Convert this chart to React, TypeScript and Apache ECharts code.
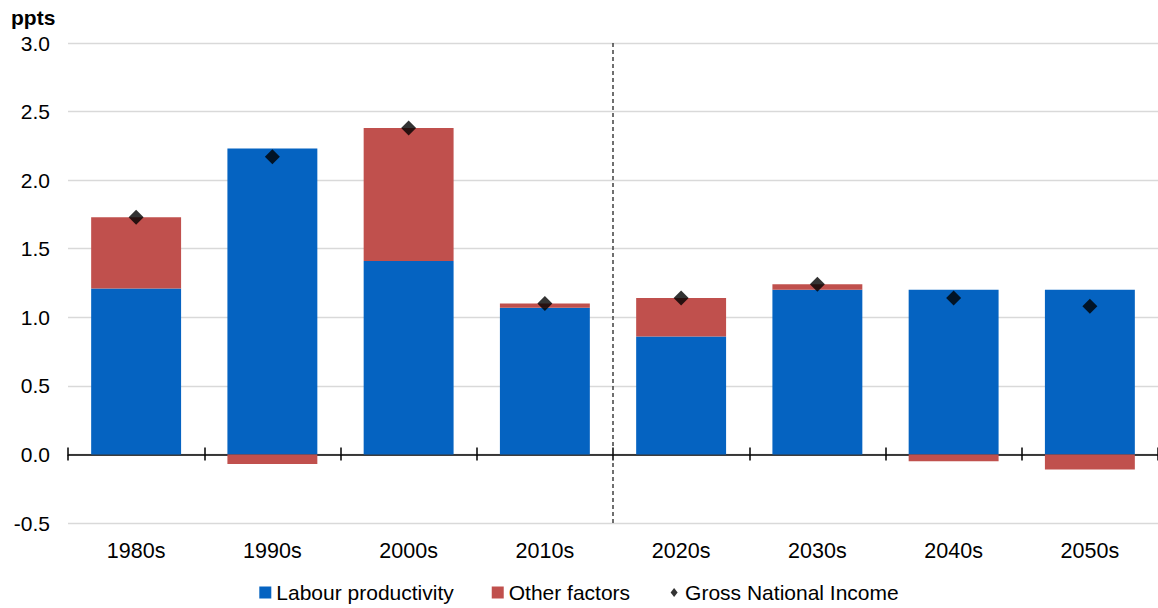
import React, { useEffect, useRef } from "react";
import * as echarts from "echarts";

const categories = ["1980s", "1990s", "2000s", "2010s", "2020s", "2030s", "2040s", "2050s"];
const labourProductivity = [1.21, 2.23, 1.41, 1.07, 0.86, 1.2, 1.2, 1.2];
const otherFactors = [0.52, -0.07, 0.97, 0.03, 0.28, 0.04, -0.05, -0.11];
const grossNationalIncome = [1.73, 2.17, 2.38, 1.1, 1.14, 1.24, 1.14, 1.08];
const yTicks = { min: -0.5, max: 3.0, interval: 0.5 };
const forecastStart = "2020s";

const FONT = "'Liberation Sans', Arial, sans-serif";

export default function App() {
  const ref = useRef<HTMLDivElement>(null);
  useEffect(() => {
    if (!ref.current) return;
    const chart = echarts.init(ref.current, undefined, { renderer: "svg" });
    const dividerPos = categories.indexOf(forecastStart);
    chart.setOption({
      animation: false,
      textStyle: { fontFamily: FONT },
      title: {
        text: "ppts",
        left: 11,
        top: 7,
        padding: 0,
        textStyle: { fontFamily: FONT, fontSize: 21, fontWeight: "bold", color: "#000" },
      },
      grid: { left: 68, right: 0, top: 43, bottom: 85, containLabel: false },
      legend: {
        bottom: 0,
        left: "center",
        itemWidth: 12,
        itemHeight: 12,
        itemGap: 38,
        textStyle: { fontFamily: FONT, fontSize: 21, color: "#000" },
        data: [
          { name: "Labour productivity", icon: "rect" },
          { name: "Other factors", icon: "rect" },
          { name: "Gross National Income", icon: "path://M0,0M12,12M6,1.5L9.5,6L6,10.5L2.5,6Z" },
        ],
      },
      xAxis: [
        {
          type: "category",
          data: categories,
          position: "bottom",
          axisLine: { show: false, onZero: false },
          axisTick: { show: false },
          axisLabel: { fontFamily: FONT, fontSize: 21.5, color: "#000", margin: 17 },
          splitLine: { show: false },
        },
        {
          type: "category",
          data: categories,
          position: "bottom",
          axisLine: { show: true, onZero: true, onZeroAxisIndex: 0, lineStyle: { color: "#000", width: 1.5 } },
          axisTick: { show: true, inside: false, length: 6, lineStyle: { color: "#000", width: 1.5 } },
          axisLabel: { show: false },
          splitLine: { show: false },
        },
        {
          type: "category",
          data: categories,
          position: "bottom",
          axisLine: { show: false, onZero: true, onZeroAxisIndex: 1 },
          axisTick: { show: true, inside: true, length: 7, lineStyle: { color: "#000", width: 1.5 } },
          axisLabel: { show: false },
          splitLine: { show: false },
        },
        {
          type: "value",
          show: false,
          min: 0,
          max: categories.length,
          splitLine: { show: false },
        },
      ],
      yAxis: [
        {
          type: "value",
          min: yTicks.min,
          max: yTicks.max,
          interval: yTicks.interval,
          axisLine: { show: false },
          axisTick: { show: false },
          axisLabel: {
            fontFamily: FONT,
            fontSize: 21,
            color: "#000",
            margin: 18,
            formatter: (v: number) => v.toFixed(1),
          },
          splitLine: { show: true, lineStyle: { color: "#d9d9d9", width: 1.3 } },
        },
        {
          type: "value",
          show: false,
          min: yTicks.min,
          max: yTicks.max,
          interval: yTicks.interval,
          splitLine: { show: false },
        },
      ],
      series: [
        {
          name: "Labour productivity",
          type: "bar",
          stack: "total",
          barWidth: "66%",
          data: labourProductivity,
          itemStyle: { color: "#0563C1" },
          z: 2,
        },
        {
          name: "Other factors",
          type: "bar",
          stack: "total",
          barWidth: "66%",
          data: otherFactors,
          itemStyle: { color: "#C0504D" },
          z: 2,
        },
        {
          name: "Gross National Income",
          type: "scatter",
          symbol: "diamond",
          symbolSize: 15,
          data: grossNationalIncome,
          itemStyle: { color: "#000" },
          z: 5,
        },
        {
          name: "divider",
          type: "scatter",
          xAxisIndex: 3,
          yAxisIndex: 0,
          data: [],
          silent: true,
          markLine: {
            silent: true,
            symbol: ["none", "none"],
            label: { show: false },
            lineStyle: { color: "#404040", type: [4, 3], width: 1.5 },
            data: [{ xAxis: dividerPos }],
          },
          z: 1,
        },
      ],
    });
    return () => chart.dispose();
  }, []);
  return (
    <div
      ref={ref}
      style={{ position: "fixed", left: 0, top: 0, width: 1158, height: 608, background: "#fff" }}
    />
  );
}
